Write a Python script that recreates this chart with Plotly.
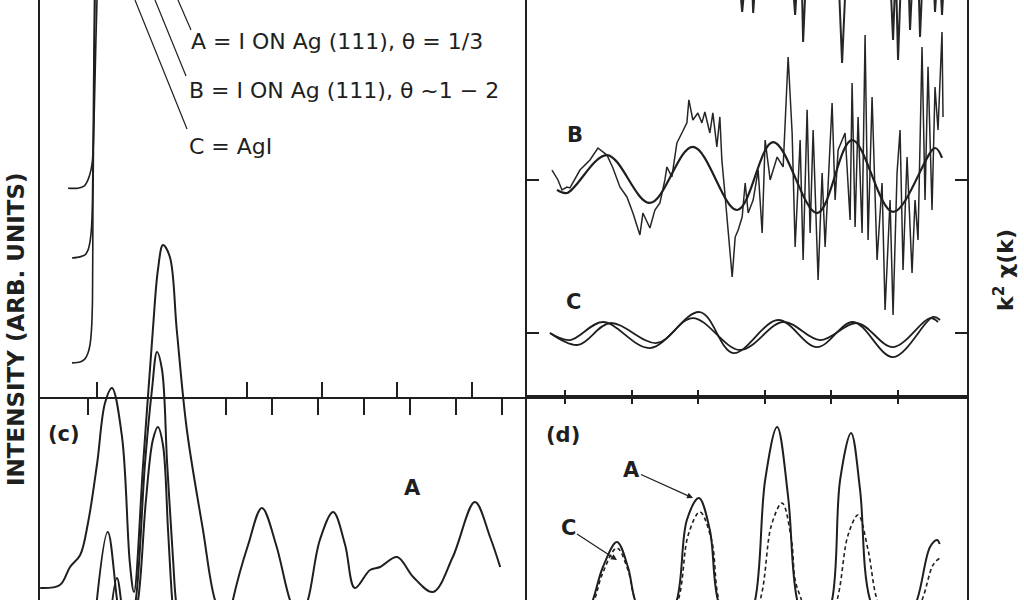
import plotly.graph_objects as go

W, H = 1024, 600
INK = "#1f1f1f"

# ---- (a) absorption edges: energy relative to edge (eV), intensity (arb.)
edge_a_e = [-7.73, -5.07, -3.47, -2.4, -1.6, -1.2, -0.93, -0.53, 0.0, 0.27]
edge_a_i = [5.26, 5.26, 5.31, 5.47, 5.72, 5.97, 6.47, 7.98, 10.0, 10.5]
edge_b_e = [-6.67, -4.53, -3.2, -2.4, -1.87, -1.47, -1.2, -0.93, -0.67, -0.53]
edge_b_i = [3.50, 3.53, 3.58, 3.70, 3.90, 4.26, 4.96, 7.48, 10.0, 10.5]
edge_c_e = [-6.67, -4.53, -3.2, -2.4, -1.87, -1.47, -1.2, -1.07, -0.8, -0.53, -0.4]
edge_c_i = [0.86, 0.88, 0.96, 1.11, 1.31, 1.69, 2.44, 4.96, 7.48, 10.0, 10.5]

# ---- (b) k^2 chi(k), offset curves (B around 10, C around 0)
k_b_data = [3.61, 3.79, 3.91, 4.06, 4.15, 4.45, 4.75, 4.99, 5.26, 5.44, 5.65, 5.86, 6.04, 6.25,
            6.34, 6.55, 6.70, 6.85, 7.00, 7.06, 7.21, 7.36, 7.51, 7.66, 7.72, 7.84, 7.99, 8.11,
            8.20, 8.35, 8.44, 8.56, 8.65, 8.71, 8.80, 8.89, 9.02, 9.11, 9.20, 9.32, 9.41, 9.50,
            9.65, 9.80, 9.92, 10.01, 10.16, 10.37, 10.55, 10.70, 10.82, 10.91, 11.06, 11.15,
            11.27, 11.36, 11.45, 11.60, 11.72, 11.81, 12.02, 12.11, 12.20, 12.41, 12.56, 12.62,
            12.71, 12.80, 12.92, 13.01, 13.10, 13.22, 13.37, 13.52, 13.61, 13.76, 13.85, 13.97,
            14.06, 14.15, 14.27, 14.42, 14.51, 14.60, 14.72, 14.81, 14.90, 15.02, 15.11, 15.20,
            15.32, 15.35]
chi_b_data = [10.65, 10.00, 9.35, 9.54, 9.48, 10.65, 11.31, 12.09, 11.63, 10.78, 9.54, 8.89, 7.84,
              6.41, 7.84, 6.86, 8.04, 8.50, 10.00, 10.85, 10.20, 12.42, 13.07, 13.73, 15.23, 13.92,
              14.38, 13.73, 14.44, 13.07, 14.38, 12.16, 14.12, 11.31, 9.15, 6.73, 3.66, 6.27, 6.73,
              7.58, 9.80, 7.84, 8.69, 10.65, 6.54, 12.61, 10.00, 11.50, 10.85, 18.04, 13.07, 5.62,
              12.61, 4.77, 14.58, 6.54, 13.27, 3.46, 10.46, 5.62, 15.03, 8.69, 11.96, 13.07, 7.39,
              16.34, 6.93, 14.12, 6.54, 19.48, 6.08, 15.42, 4.77, 9.80, 1.50, 8.69, 1.18, 10.46,
              13.27, 4.12, 11.50, 3.92, 8.69, 6.08, 18.69, 8.69, 17.39, 8.04, 16.08, 13.27, 19.67,
              14.12]
k_b_fit = [3.76, 4.06, 5.26, 6.55, 7.84, 9.17, 10.25, 11.57, 12.62, 13.85, 15.11, 15.32]
chi_b_fit = [9.35, 9.15, 11.63, 8.50, 12.16, 8.04, 12.48, 7.84, 12.61, 7.91, 12.09, 11.44]
k_c1 = [3.55, 4.15, 5.14, 6.55, 8.05, 9.05, 10.40, 11.57, 12.65, 13.85, 15.05, 15.26]
chi_c1 = [0.0, -0.46, 0.72, -0.98, 1.37, -1.31, 0.85, -0.92, 0.72, -1.57, 1.05, 0.85]
k_c2 = [3.55, 4.39, 5.35, 6.76, 7.84, 9.26, 10.55, 11.66, 12.77, 13.85, 14.96, 15.20]
chi_c2 = [0.0, -0.78, 0.65, -0.65, 0.98, -1.11, 0.72, -0.46, 0.65, -0.92, 0.98, 0.72]
k_a_data = [3.6, 9.2, 9.32, 9.45, 9.6, 9.65, 9.75, 10.8, 10.91, 11.0, 11.1, 11.15, 11.25, 12.2,
            12.32, 12.45, 13.75, 13.85, 13.93, 14.0, 14.1, 14.3, 14.36, 14.45, 14.6, 14.66, 14.75,
            15.05, 15.11, 15.2, 15.25, 15.32, 15.4]
chi_a_data = [24, 24, 20.98, 24, 24, 20.92, 24, 24, 20.78, 24, 24, 19.02, 24, 24, 17.65, 24, 24,
              19.15, 24, 17.84, 24, 24, 19.80, 24, 24, 19.35, 24, 24, 20.98, 24, 24, 20.78, 24]

# ---- (c) Fourier transforms |F(R)|
r_c_a = [-1.04, -0.61, -0.39, -0.17, 0.0, 0.20, 0.37, 0.52, 0.74, 0.91, 1.00, 1.20, 1.41, 1.52,
         1.63, 1.78, 1.93, 2.15, 2.50, 2.76, 3.04, 3.15, 3.48, 3.78, 4.09, 4.39, 4.59, 4.78, 5.04,
         5.33, 5.59, 5.80, 6.13, 6.35, 6.72, 7.07, 7.50, 7.93, 8.41, 8.74, 8.96]
f_c_a = [0.24, 0.30, 0.66, 0.90, 1.54, 2.74, 3.94, 4.24, 3.26, 0.74, 0.16, 2.74, 5.40, 6.60,
         7.10, 6.86, 5.40, 3.40, 1.40, 0.0, -0.6, 0.0, 1.1, 1.84, 1.1, 0.0, -0.4, 0.0, 1.2,
         1.76, 1.1, 0.24, 0.60, 0.66, 0.86, 0.46, 0.16, 0.86, 1.96, 1.26, 0.66]
r_c_b = [0.15, 0.43, 0.70, 0.87, 1.04, 1.24, 1.39, 1.50, 1.61, 1.72, 1.85, 1.91, 2.04]
f_c_b = [-0.4, 1.36, -0.4, -0.8, 0.0, 2.74, 4.2, 4.96, 4.6, 2.74, 0.8, 0.0, -0.8]
r_c_c = [0.48, 0.63, 0.78, 0.91, 1.09, 1.26, 1.41, 1.52, 1.63, 1.74, 1.83, 1.91]
f_c_c = [-0.4, 0.44, -0.4, -0.8, 0.0, 2.0, 3.2, 3.46, 3.1, 1.4, 0.0, -0.8]

# ---- (d) filtered first shell, solid = A, dashed = C
k_d_a = [4.3, 4.84, 5.14, 5.56, 5.89, 6.10, 6.7, 7.36, 7.66, 8.02, 8.35, 8.59, 9.2, 9.71, 10.01,
         10.37, 10.70, 10.97, 11.5, 12.02, 12.26, 12.59, 12.86, 13.16, 13.9, 14.57, 14.96, 15.17,
         15.25]
f_d_a = [-1.0, 0.0, 0.66, 1.16, 0.66, 0.0, -1.0, 0.0, 1.6, 2.04, 1.4, 0.0, -1.0, 0.0, 2.4, 3.46,
         2.06, 0.0, -1.0, 0.0, 2.4, 3.34, 2.2, 0.0, -1.0, 0.0, 1.06, 1.2, 1.12]
k_d_c = [4.3, 4.84, 5.14, 5.56, 5.89, 6.10, 6.7, 7.4, 7.7, 8.05, 8.4, 8.62, 9.2, 9.86, 10.2,
         10.52, 10.8, 10.91, 11.1, 11.6, 12.17, 12.5, 12.8, 13.1, 13.37, 14.0, 14.72, 15.05, 15.25]
f_d_c = [-1.0, -0.1, 0.55, 1.04, 0.6, 0.0, -1.0, 0.0, 1.3, 1.76, 1.2, 0.0, -1.0, 0.0, 1.5, 1.94,
         1.2, 0.4, 0.0, -1.0, 0.0, 1.3, 1.70, 1.0, 0.0, -1.0, 0.0, 0.7, 0.84]


def px(x):
    return x / W


def py(y):
    return 1 - y / H


fig = go.Figure()


def line(x, y, ax, width=1.8, dash="solid", smooth=1.0, color=INK):
    fig.add_trace(go.Scatter(
        x=x, y=y, xaxis="x" + ax, yaxis="y" + ax, mode="lines",
        line=dict(color=color, width=width, dash=dash, shape="spline", smoothing=smooth),
        showlegend=False, hoverinfo="skip",
    ))


# (a)
line(edge_a_e, edge_a_i, "", 1.6, smooth=0.8)
line(edge_b_e, edge_b_i, "", 1.6, smooth=0.8)
line(edge_c_e, edge_c_i, "", 1.6, smooth=0.8)

# (b)
fig.add_trace(go.Scatter(x=k_b_data, y=chi_b_data, xaxis="x2", yaxis="y2", mode="lines",
                         line=dict(color="#262626", width=1.5), showlegend=False, hoverinfo="skip"))
fig.add_trace(go.Scatter(x=k_a_data, y=chi_a_data, xaxis="x2", yaxis="y2", mode="lines",
                         line=dict(color="#262626", width=2), showlegend=False, hoverinfo="skip"))
line(k_b_fit, chi_b_fit, "2", 2.2)
line(k_c1, chi_c1, "2", 1.8)
line(k_c2, chi_c2, "2", 1.8)

# (c)
line(r_c_a, f_c_a, "3", 2.0)
line(r_c_b, f_c_b, "3", 2.0)
line(r_c_c, f_c_c, "3", 2.0)

# (d)
line(k_d_a, f_d_a, "4", 2.0)
line(k_d_c, f_d_c, "4", 1.6, dash="4px,3px")

ax_common = dict(showgrid=False, zeroline=False, showticklabels=False,
                 linecolor=INK, linewidth=2, tickcolor=INK, tickwidth=1.5)

fig.update_layout(
    width=W, height=H,
    margin=dict(l=0, r=0, t=0, b=0),
    paper_bgcolor="white", plot_bgcolor="rgba(0,0,0,0)",
    xaxis=dict(domain=[px(40), px(527)], anchor="y", range=[-15.2, 114.7], showline=True,
               ticks="inside", ticklen=15, tickvals=[0, 40, 60, 80, 100], **ax_common),
    yaxis=dict(domain=[py(397), 1], anchor="x", range=[0, 10], showline=True, ticks="",
               **ax_common),
    xaxis2=dict(domain=[px(527), px(967)], anchor="y2", range=[2.86, 16.07], showline=True,
                ticks="inside", ticklen=7, tickvals=[4, 6, 8, 10, 12, 14], **ax_common),
    yaxis2=dict(domain=[py(397), 1], anchor="x2", range=[-4.18, 21.76], showline=True,
                mirror="ticks", ticks="inside", ticklen=12, tickvals=[0, 10], **ax_common),
    xaxis3=dict(domain=[px(40), px(527)], anchor="free", position=py(397), side="top",
                range=[-1.043, 9.543], showline=False, ticks="inside", ticklen=17,
                tickvals=[0, 3, 4, 5, 6, 7, 8, 9], **ax_common),
    yaxis3=dict(domain=[0, 1], anchor="x3", range=[0, 12], showline=True, ticks="",
                **ax_common),
    xaxis4=dict(domain=[px(527), px(967)], anchor="y4", side="top", range=[2.86, 16.07],
                showline=True, ticks="inside", ticklen=7, tickvals=[4, 6, 8, 10, 12, 14],
                **ax_common),
    yaxis4=dict(domain=[0, py(397)], anchor="x4", range=[0, 4.06], showline=True,
                mirror=True, ticks="", **ax_common),
)

LBL = dict(family="DejaVu Sans", size=22, color=INK)
BOLD = dict(family="DejaVu Sans", size=21, color=INK, weight="bold")


def text(x, y, s, font=LBL, anchor="center", angle=0):
    fig.add_annotation(x=px(x), y=py(y), xref="paper", yref="paper", text=s, showarrow=False,
                       xanchor=anchor, yanchor="middle", font=font, textangle=angle)


def pointer(hx, hy, tx, ty, s):
    fig.add_annotation(x=px(hx), y=py(hy), xref="paper", yref="paper", text=s,
                       showarrow=True, arrowhead=2, arrowsize=1, arrowwidth=1.2,
                       arrowcolor=INK, ax=tx - hx, ay=ty - hy, font=BOLD)


def leader(x0, y0, x1, y1):
    fig.add_shape(type="line", xref="paper", yref="paper", x0=px(x0), y0=py(y0),
                  x1=px(x1), y1=py(y1), line=dict(color=INK, width=1.2))


text(16, 330, "INTENSITY (ARB. UNITS)", dict(family="DejaVu Sans", size=23, color=INK,
                                             weight="bold"), angle=-90)
text(1004, 270, "k<sup>2</sup> χ(k)", dict(family="DejaVu Sans", size=22, color=INK,
                                           weight="bold"), angle=-90)

text(189, 41, "A = I ON Ag (111), θ = 1/3", anchor="left")
text(187, 90, "B = I ON Ag (111), θ ~1 − 2", anchor="left")
text(187, 146, "C = AgI", anchor="left")
leader(191, 30, 178, 0)
leader(186, 76, 155, 0)
leader(187, 129, 135, 0)

text(64, 434, "(c)", BOLD)
text(563, 435, "(d)", BOLD)
text(412, 488, "A", BOLD)
text(575, 135, "B", BOLD)
text(573, 302, "C", BOLD)
pointer(693, 498, 631, 470, "A")
pointer(617, 560, 568, 528, "C")

fig.write_html("out.html", config={"displayModeBar": False},
               post_script="document.body.style.margin='0';document.body.style.overflow='hidden';")
